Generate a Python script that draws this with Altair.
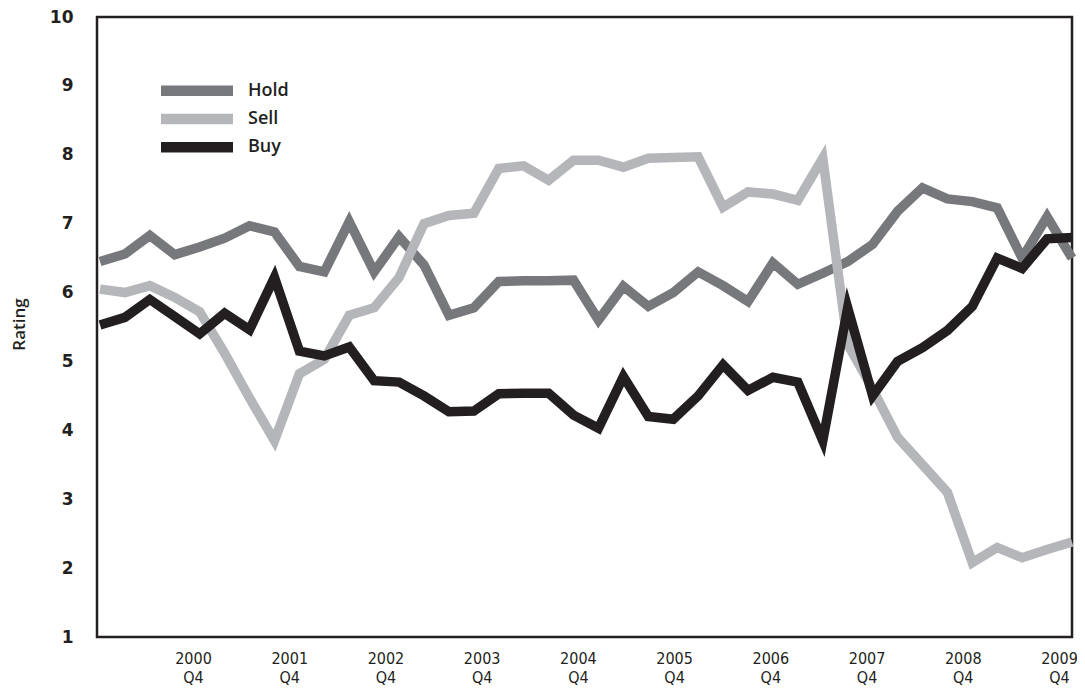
import altair as alt
import pandas as pd

series_names = ["Hold", "Sell", "Buy"]
series_colors = ["#77787b", "#b5b6b9", "#231f20"]

hold = [6.45, 6.56, 6.83, 6.55, 6.66, 6.79, 6.97, 6.88, 6.38, 6.30,
        7.03, 6.30, 6.81, 6.40, 5.67, 5.78, 6.16, 6.17, 6.17, 6.18,
        5.60, 6.09, 5.80, 6.00, 6.30, 6.10, 5.87, 6.43, 6.12, 6.28,
        6.45, 6.70, 7.18, 7.52, 7.36, 7.32, 7.23, 6.50, 7.10, 6.50]
sell = [6.05, 6.00, 6.10, 5.93, 5.72, 5.12, 4.47, 3.85, 4.82, 5.03,
        5.67, 5.78, 6.22, 7.00, 7.12, 7.15, 7.80, 7.84, 7.63, 7.92,
        7.92, 7.82, 7.95, 7.96, 7.97, 7.24, 7.46, 7.43, 7.34, 7.95,
        5.25, 4.60, 3.90, 3.50, 3.10, 2.08, 2.30, 2.15, 2.27, 2.38]
buy = [5.53, 5.64, 5.90, 5.65, 5.40, 5.70, 5.46, 6.22, 5.15, 5.08,
       5.21, 4.72, 4.70, 4.50, 4.27, 4.28, 4.53, 4.54, 4.54, 4.22,
       4.03, 4.78, 4.20, 4.16, 4.50, 4.95, 4.58, 4.77, 4.70, 3.85,
       5.78, 4.50, 5.00, 5.20, 5.45, 5.80, 6.50, 6.35, 6.78, 6.80]

tick_years = [2000, 2001, 2002, 2003, 2004, 2005, 2006, 2007, 2008, 2009]
y_ticks = [1, 2, 3, 4, 5, 6, 7, 8, 9, 10]

rows = []
for name, vals in zip(series_names, [hold, sell, buy]):
    for i, v in enumerate(vals):
        rows.append({"q": i, "rating": v, "series": name})
df = pd.DataFrame(rows)
df_years = pd.DataFrame({"year": tick_years})
df_legend = pd.DataFrame({"series": series_names})

INK = "#231f20"
color_scale = alt.Scale(domain=series_names, range=series_colors)

lines = alt.Chart(df).mark_line(
    strokeWidth=9.5, strokeJoin="miter", strokeMiterLimit=10
).encode(
    x=alt.X("q:Q", scale=alt.Scale(domain=[-0.12, 39.0], nice=False, zero=False), axis=None),
    y=alt.Y(
        "rating:Q",
        scale=alt.Scale(domain=[1, 10], nice=False, zero=False),
        axis=alt.Axis(
            values=y_ticks, title="Rating", grid=False, ticks=False, domain=False,
            labelPadding=24, labelFont="DejaVu Sans", labelFontWeight="bold", labelFontSize=17,
            labelColor=INK, titleFont="Open Sans", titleFontWeight=600,
            titleFontSize=17, titleColor=INK, titleX=-78, titleY=307,
            titleAngle=270, titleBaseline="middle", titleAlign="center",
        ),
    ),
    color=alt.Color("series:N", scale=color_scale, legend=None),
    order=alt.Order("q:Q"),
)

# legend drawn as its own small layer (rows placed by a point scale)
legend_y = alt.Y(
    "series:N",
    scale=alt.Scale(type="point", domain=series_names, range=[73.7, 130.3], padding=0),
    axis=None,
)

legend_rules = alt.Chart(df_legend).mark_rule(strokeWidth=10.5).encode(
    x=alt.value(64), x2=alt.value(136), y=legend_y,
    color=alt.Color("series:N", scale=color_scale, legend=None),
)
legend_text = alt.Chart(df_legend).mark_text(
    align="left", baseline="middle", font="Open Sans", fontWeight=600, fontSize=18, color=INK
).encode(
    x=alt.value(151), y=legend_y, text="series:N",
)

year_axis = alt.Chart(df_years).mark_point(opacity=0).encode(
    x=alt.X(
        "year:Q",
        scale=alt.Scale(domain=[1999.0023, 2009.1353], nice=False, zero=False),
        axis=alt.Axis(
            values=tick_years, title=None, grid=False, ticks=False, domain=False,
            labelExpr="[format(datum.value, 'd'), 'Q4']",
            labelFont="DejaVu Sans Condensed, Liberation Sans Narrow, Roboto Condensed, Roboto",
            labelFontSize=16, labelLineHeight=19,
            labelColor=INK, labelPadding=13,
        ),
    ),
    y=alt.value(0),
)

chart = alt.layer(lines, legend_rules, legend_text, year_axis).resolve_scale(
    x="independent", y="independent"
).properties(
    width=975, height=620,
    autosize=alt.AutoSizeParams(type="none"),
    padding={"left": 89, "top": 9, "right": 5, "bottom": 50},
    background="white",
).configure_view(stroke=INK, strokeWidth=2.5)

chart.save("out.html", embed_options={"renderer": "svg", "actions": False})
